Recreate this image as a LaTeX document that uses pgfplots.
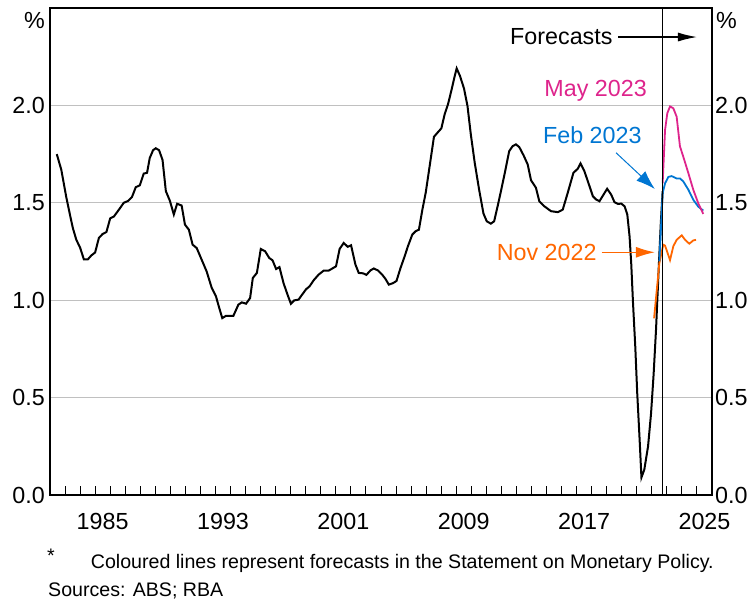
\documentclass[border=0pt]{standalone}
\usepackage{pgfplots}
\pgfplotsset{compat=1.18}
\usepackage{fontspec}
\setmainfont{Liberation Sans}
\usetikzlibrary{arrows.meta}
\definecolor{maycol}{RGB}{222,36,140}
\definecolor{febcol}{RGB}{0,118,210}
\definecolor{novcol}{RGB}{255,102,0}
\definecolor{gridgray}{RGB}{192,192,192}
\newcommand{\bigfont}{\fontsize{23.3bp}{28bp}\selectfont}
\newcommand{\smallfont}{\fontsize{19.6bp}{23bp}\selectfont}
\begin{document}
\bigfont
\begin{tikzpicture}
\useasboundingbox (0,0) rectangle (751bp,-601bp);
\begin{axis}[
  at={(50bp,-495bp)}, anchor=south west,
  scale only axis, width=662bp, height=487bp,
  xmin=1982, xmax=2026, ymin=0, ymax=2.5,
  clip=false,
  axis line style={line width=1.2bp},
  ytick={0,0.5,1,1.5,2},
  yticklabels={0.0,0.5,1.0,1.5,2.0},
  ymajorgrids, major grid style={gridgray, line width=1bp},
  yticklabel style={font=\bigfont, inner sep=0pt, xshift=-5bp},
  xtick={1985.5,1993.5,2001.5,2009.5,2017.5,2025.5},
  xticklabels={1985,1993,2001,2009,2017,2025},
  xticklabel style={font=\bigfont, inner sep=0pt, yshift=-18bp},
  major tick length=0pt,
  tick align=inside,
  xtick pos=lower, ytick pos=left,
]
% year ticks on the bottom axis
\pgfplotsinvokeforeach{1983,1984,...,2025}{
  \draw[black, line width=1bp] (axis cs:#1,0) -- ([yshift=9bp]axis cs:#1,0);
}
% history
\addplot[black, line width=2bp] coordinates {
(1982.45,1.75)(1982.75,1.67)(1983.08,1.53)(1983.35,1.43)(1983.52,1.37)(1983.75,1.31)
(1984.0,1.27)(1984.25,1.21)(1984.52,1.21)(1984.75,1.23)(1985.0,1.245)(1985.25,1.32)
(1985.5,1.34)(1985.75,1.35)(1986.0,1.42)(1986.25,1.43)(1986.63,1.47)(1986.9,1.50)
(1987.2,1.51)(1987.45,1.53)(1987.7,1.58)(1987.97,1.59)(1988.23,1.65)(1988.45,1.654)
(1988.63,1.73)(1988.85,1.77)(1989.03,1.78)(1989.25,1.77)(1989.48,1.72)(1989.7,1.56)
(1989.97,1.51)(1990.23,1.44)(1990.45,1.495)(1990.75,1.486)(1990.97,1.388)(1991.23,1.362)
(1991.48,1.285)(1991.75,1.268)(1992.08,1.208)(1992.41,1.148)(1992.75,1.063)(1993.03,1.02)
(1993.25,0.96)(1993.45,0.908)(1993.7,0.92)(1994.19,0.92)(1994.52,0.977)(1994.75,0.989)
(1995.03,0.982)(1995.3,1.011)(1995.48,1.114)(1995.75,1.14)(1996.01,1.263)(1996.3,1.251)
(1996.57,1.217)(1996.79,1.205)(1997.03,1.16)(1997.25,1.17)(1997.52,1.088)(1997.79,1.028)
(1998.01,0.982)(1998.23,0.999)(1998.52,1.003)(1998.75,1.028)(1999.03,1.057)(1999.25,1.071)
(1999.52,1.102)(1999.85,1.131)(2000.19,1.152)(2000.52,1.152)(2000.75,1.162)(2001.01,1.174)
(2001.25,1.263)(2001.52,1.294)(2001.79,1.274)(2002.01,1.282)(2002.3,1.183)(2002.52,1.14)
(2002.81,1.138)(2003.03,1.13)(2003.3,1.153)(2003.52,1.163)(2003.79,1.153)(2004.08,1.131)
(2004.3,1.109)(2004.52,1.08)(2004.81,1.088)(2005.03,1.099)(2005.3,1.166)(2005.57,1.225)
(2005.79,1.277)(2006.08,1.337)(2006.3,1.354)(2006.52,1.362)(2006.75,1.465)(2006.97,1.551)
(2007.25,1.697)(2007.52,1.839)(2007.79,1.863)(2008.01,1.882)(2008.23,1.954)(2008.45,2.005)
(2008.68,2.077)(2008.9,2.151)(2009.03,2.19)(2009.25,2.151)(2009.52,2.086)(2009.75,1.996)
(2009.97,1.851)(2010.23,1.705)(2010.52,1.568)(2010.81,1.445)(2011.03,1.405)(2011.3,1.393)
(2011.52,1.405)(2011.75,1.482)(2011.97,1.559)(2012.23,1.654)(2012.52,1.765)(2012.75,1.791)
(2012.97,1.8)(2013.19,1.786)(2013.48,1.743)(2013.75,1.697)(2013.97,1.616)(2014.3,1.577)
(2014.52,1.508)(2014.86,1.482)(2015.3,1.457)(2015.75,1.452)(2016.08,1.465)(2016.41,1.551)
(2016.79,1.654)(2017.08,1.675)(2017.26,1.702)(2017.52,1.662)(2017.86,1.585)(2018.08,1.534)
(2018.3,1.517)(2018.52,1.508)(2018.75,1.537)(2019.03,1.572)(2019.3,1.542)(2019.52,1.503)
(2019.75,1.494)(2019.97,1.496)(2020.19,1.482)(2020.37,1.44)(2020.52,1.328)(2020.63,1.191)
(2020.75,0.986)(2020.9,0.762)(2021.03,0.523)(2021.19,0.283)(2021.31,0.09)(2021.5,0.13)
(2021.75,0.25)(2021.95,0.42)(2022.12,0.62)(2022.28,0.85)(2022.45,1.15)(2022.6,1.40)
(2022.72,1.56)
};
% Nov 2022 forecast
\addplot[novcol, line width=1.8bp] coordinates {
(2022.15,0.907)(2022.5,1.19)(2022.76,1.285)(2022.88,1.28)(2023.21,1.206)(2023.43,1.277)
(2023.65,1.31)(2023.99,1.333)(2024.21,1.31)(2024.49,1.29)(2024.76,1.307)(2024.94,1.31)
};
% Feb 2023 forecast
\addplot[febcol, line width=1.8bp] coordinates {
(2022.5,1.2)(2022.72,1.55)(2022.88,1.60)(2023.10,1.633)(2023.32,1.637)(2023.65,1.625)
(2023.87,1.625)(2024.09,1.61)(2024.43,1.567)(2024.76,1.515)(2025.09,1.48)(2025.42,1.46)
};
% May 2023 forecast
\addplot[maycol, line width=1.8bp] coordinates {
(2022.72,1.60)(2022.88,1.874)(2023.03,1.96)(2023.21,1.995)(2023.43,1.985)(2023.65,1.942)
(2023.87,1.79)(2024.09,1.737)(2024.43,1.652)(2024.76,1.566)(2025.09,1.497)(2025.42,1.443)
};
% forecast divider
\draw[black, line width=1bp] (axis cs:2022.72,0) -- (axis cs:2022.72,2.5);
% annotations
\node[anchor=base east, inner sep=0pt, font=\bigfont] at (axis cs:2019.4,2.315) {Forecasts};
\draw[black, line width=1.2bp, -{Latex[length=19bp,width=9bp]}] (axis cs:2019.77,2.351) -- (axis cs:2025.0,2.351);
\node[anchor=base east, inner sep=0pt, font=\bigfont, text=maycol] at (axis cs:2021.68,2.045) {May 2023};
\node[anchor=base east, inner sep=0pt, font=\bigfont, text=febcol] at (axis cs:2021.33,1.802) {Feb 2023};
\draw[febcol, line width=1bp, -{Latex[length=19bp,width=13bp]}] (axis cs:2019.62,1.757) -- (axis cs:2022.2,1.571);
\node[anchor=base east, inner sep=0pt, font=\bigfont, text=novcol] at (axis cs:2018.34,1.203) {Nov 2022};
\draw[novcol, line width=1.2bp, -{Latex[length=19bp,width=11bp]}] (axis cs:2018.67,1.246) -- (axis cs:2022.2,1.246);
\end{axis}
\begin{axis}[
  at={(50bp,-495bp)}, anchor=south west,
  scale only axis, width=662bp, height=487bp,
  xmin=1982, xmax=2026, ymin=0, ymax=2.5,
  hide x axis, axis y line*=right,
  y axis line style={draw=none},
  ytick={0,0.5,1,1.5,2},
  yticklabels={0.0,0.5,1.0,1.5,2.0},
  major tick length=0pt,
  yticklabel style={font=\bigfont, inner sep=0pt, xshift=3bp},
]
\addplot[draw=none] coordinates {(1990,1)};
\end{axis}
\node[anchor=base east, inner sep=0pt, font=\bigfont] at (45bp,-28bp) {\%};
\node[anchor=base west, inner sep=0pt, font=\bigfont] at (716bp,-28bp) {\%};
\node[anchor=base west, inner sep=0pt, font=\smallfont] at (47bp,-562bp) {*};
\node[anchor=base west, inner sep=0pt, font=\smallfont] at (90.7bp,-568.3bp) {Coloured lines represent forecasts in the Statement on Monetary Policy.};
\node[anchor=base west, inner sep=0pt, font=\smallfont] at (48bp,-596.7bp) {Sources: ABS; RBA};
\end{tikzpicture}
\end{document}
